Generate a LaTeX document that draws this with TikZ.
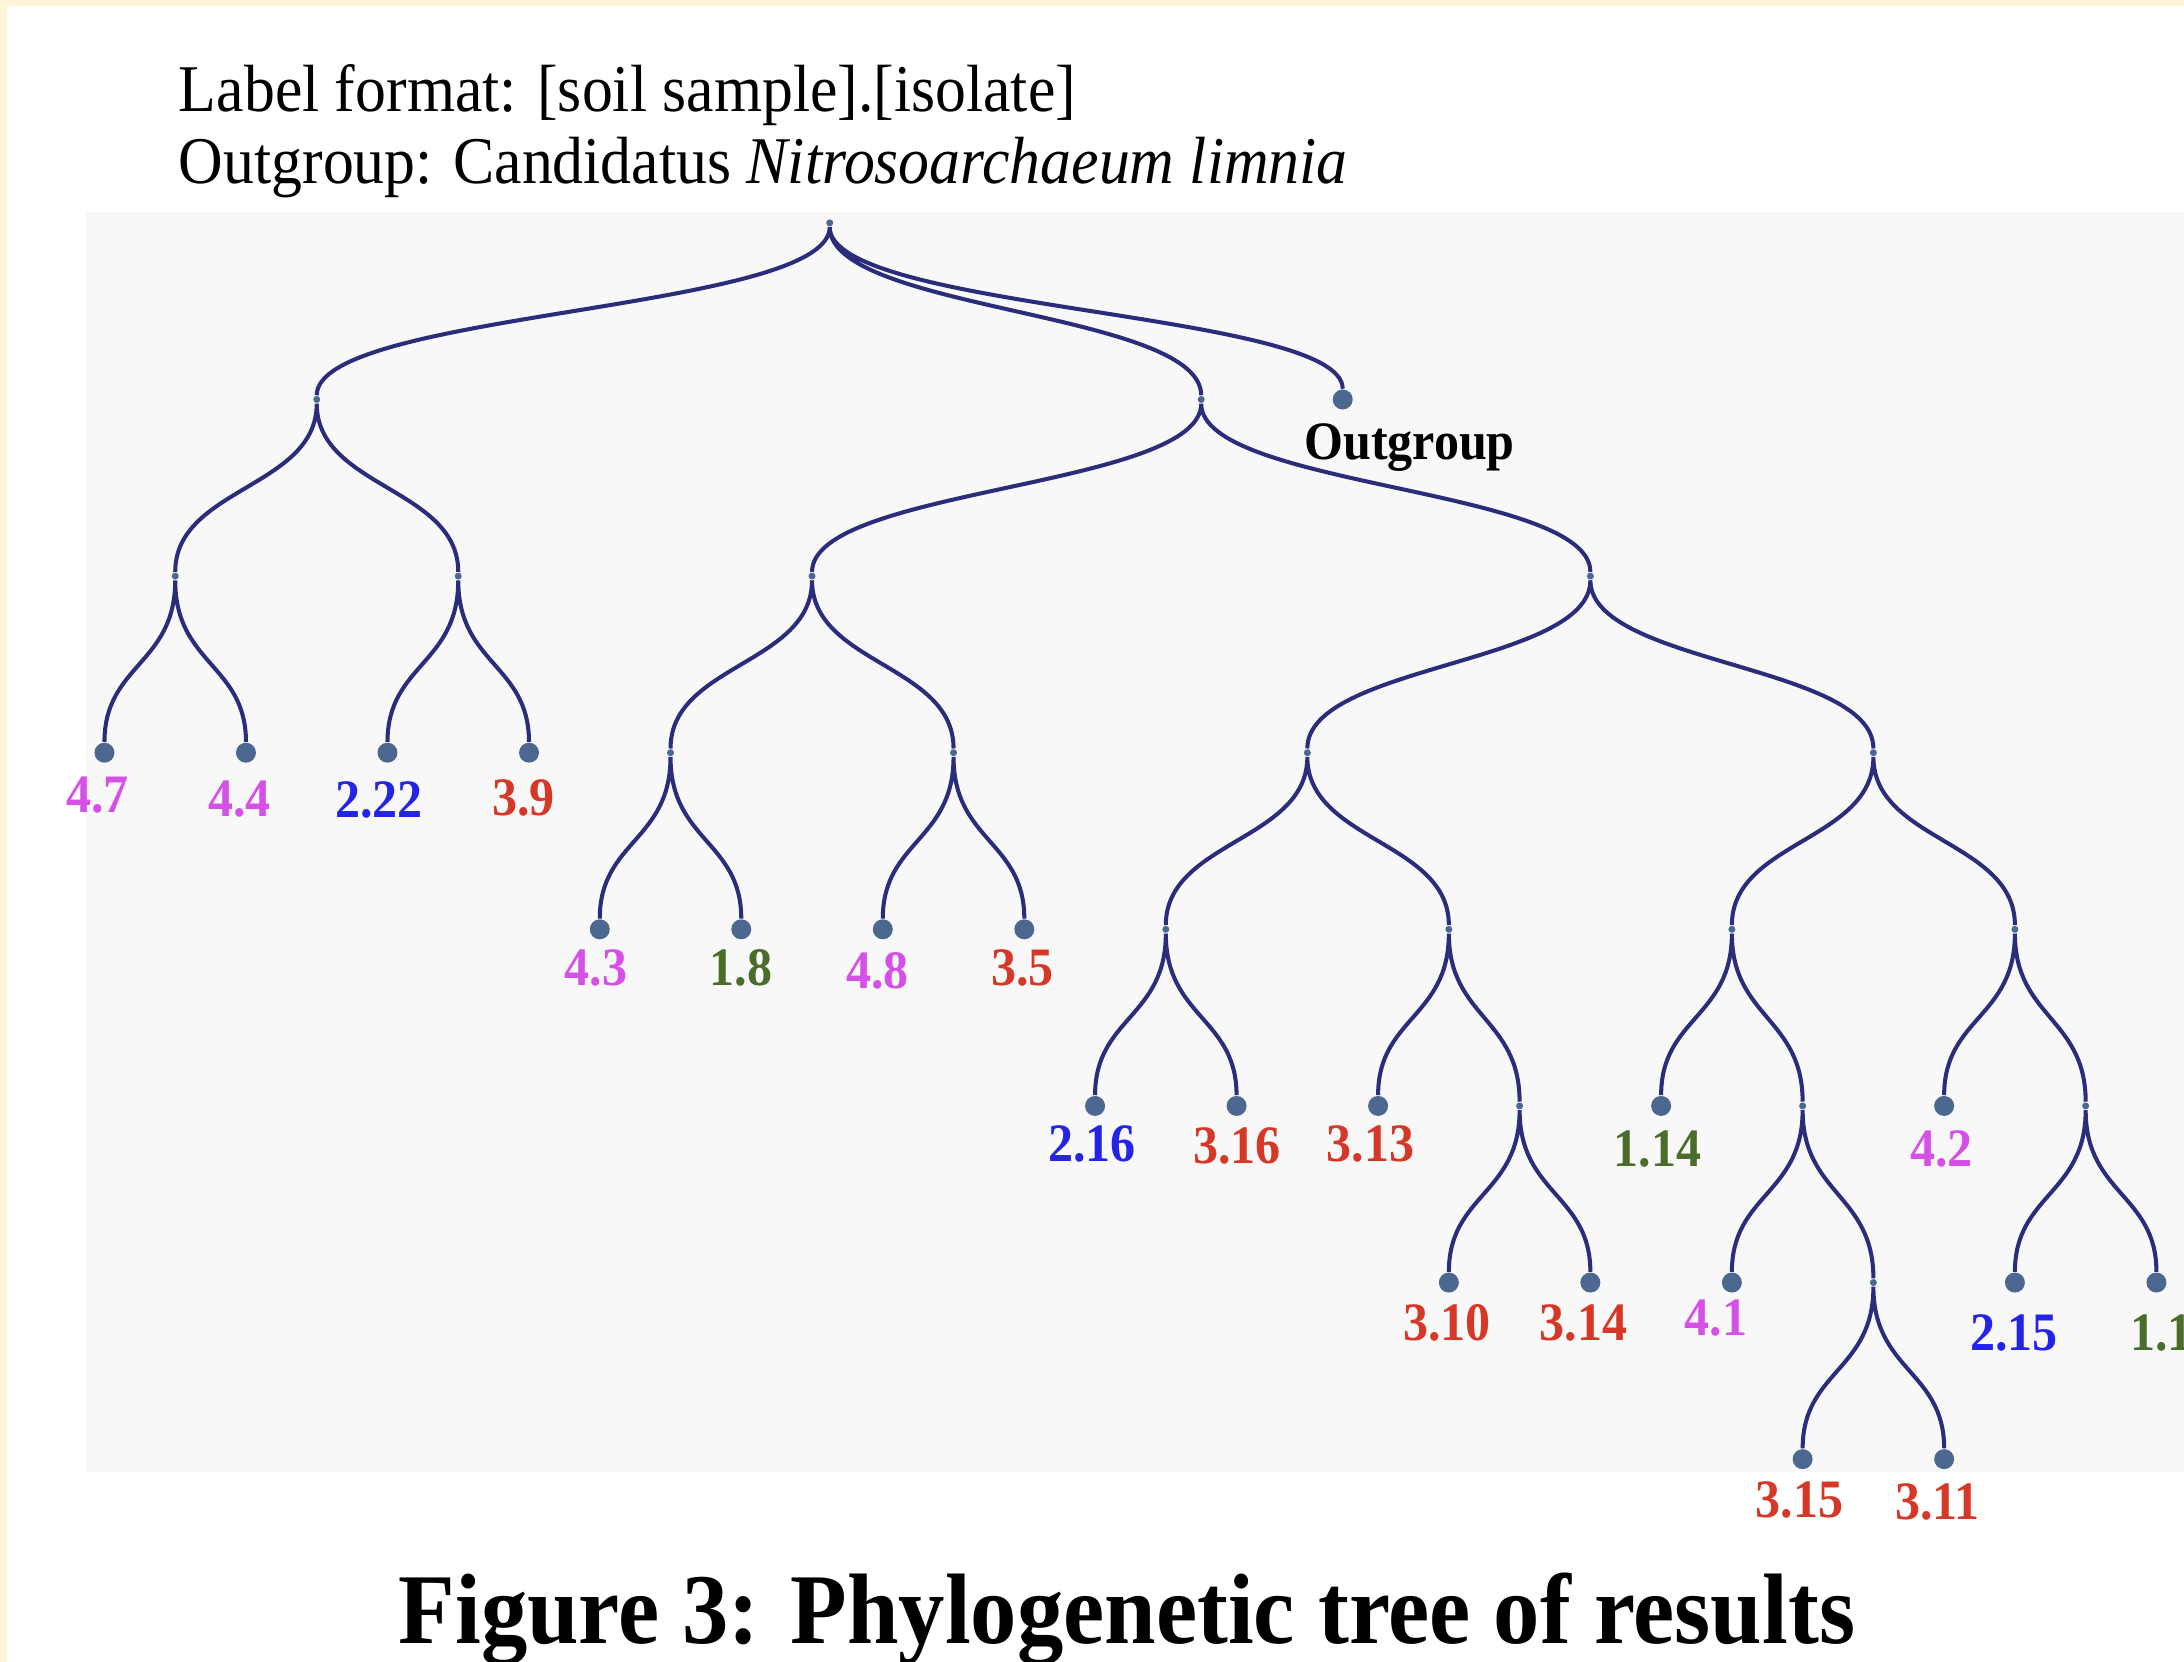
\documentclass[tikz,border=0pt]{standalone}
\usepackage{fontspec}
\setmainfont{Liberation Serif}[FakeStretch=0.925]
\definecolor{edgec}{RGB}{43,45,123}
\definecolor{dotc}{RGB}{76,104,144}
\definecolor{magc}{RGB}{214,80,232}
\definecolor{bluc}{RGB}{36,36,232}
\definecolor{redc}{RGB}{214,56,40}
\definecolor{grnc}{RGB}{74,110,42}
\definecolor{creamc}{RGB}{255,244,214}
\definecolor{panelc}{RGB}{248,248,248}
\pgfdeclarelayer{bg}
\pgfdeclarelayer{edges}
\pgfsetlayers{bg,edges,main}
\begin{document}
\begin{tikzpicture}[x=0.013929cm,y=-0.013929cm,
  inner/.style={circle,fill=dotc,draw=none,inner sep=0pt,minimum size=0.07cm},
  leaf/.style={circle,fill=dotc,draw=none,inner sep=0pt,minimum size=0.2cm},
  lab/.style={inner sep=0pt,font=\fontsize{15.4}{18}\selectfont\bfseries},
  mag/.style={text=magc}, blu/.style={text=bluc}, red/.style={text=redc}, grn/.style={text=grnc},
  branch/.style={draw=edgec,line width=1.15pt,to path={.. controls +(0,63.4) and +(0,-63.4) .. (\tikztotarget)}}]
\useasboundingbox (0,0) rectangle (1568,1193);
\begin{pgfonlayer}{bg}
\fill[creamc] (0,0) rectangle (1568,1193);
\fill[white] (5,4.3) rectangle (1568,1193);
\fill[panelc] (62,152) rectangle (1568,1057);
\end{pgfonlayer}
% header
\node[anchor=base west,inner sep=0pt,font=\fontsize{19}{23}\selectfont] (h1) at (128,80) {Label format: [soil sample].[isolate]};
\node[anchor=base west,inner sep=0pt,font=\fontsize{19}{23}\selectfont] (h2) at (128,132) {Outgroup: Candidatus \textit{Nitrosoarchaeum limnia}};
% internal nodes
\node[inner] (r) at (595.7,160) {};
\node[inner] (n1) at (227.4,286.8) {};
\node[inner] (n2) at (862.4,286.8) {};
\node[inner] (n3) at (125.8,413.6) {};
\node[inner] (n4) at (329,413.6) {};
\node[inner] (n5) at (583,413.6) {};
\node[inner] (n6) at (1141.8,413.6) {};
\node[inner] (n7) at (481.4,540.4) {};
\node[inner] (n8) at (684.6,540.4) {};
\node[inner] (n9) at (938.6,540.4) {};
\node[inner] (n10) at (1345,540.4) {};
\node[inner] (n11) at (837,667.2) {};
\node[inner] (n12) at (1040.2,667.2) {};
\node[inner] (n14) at (1243.4,667.2) {};
\node[inner] (n15) at (1446.6,667.2) {};
\node[inner] (n13) at (1091,794) {};
\node[inner] (n16) at (1294.2,794) {};
\node[inner] (n18) at (1497.4,794) {};
\node[inner] (n17) at (1345,920.8) {};
% leaves
\node[leaf] (og) at (964,286.8) {};
\node[leaf] (l47) at (75,540.4) {};
\node[leaf] (l44) at (176.6,540.4) {};
\node[leaf] (l222) at (278.2,540.4) {};
\node[leaf] (l39) at (379.8,540.4) {};
\node[leaf] (l43) at (430.6,667.2) {};
\node[leaf] (l18) at (532.2,667.2) {};
\node[leaf] (l48) at (633.8,667.2) {};
\node[leaf] (l35) at (735.4,667.2) {};
\node[leaf] (l216) at (786.2,794) {};
\node[leaf] (l316) at (887.8,794) {};
\node[leaf] (l313) at (989.4,794) {};
\node[leaf] (l114) at (1192.6,794) {};
\node[leaf] (l42) at (1395.8,794) {};
\node[leaf] (l310) at (1040.2,920.8) {};
\node[leaf] (l314) at (1141.8,920.8) {};
\node[leaf] (l41) at (1243.4,920.8) {};
\node[leaf] (l215) at (1446.6,920.8) {};
\node[leaf] (l11) at (1548.2,920.8) {};
\node[leaf] (l315) at (1294.2,1047.6) {};
\node[leaf] (l311) at (1395.8,1047.6) {};
% labels
\node[lab,anchor=base] (tog) at (1012,330) {Outgroup};
\node[lab,mag] (t47) at (70,571) {4.7};
\node[lab,mag] (t44) at (172,574) {4.4};
\node[lab,blu] (t222) at (272,574) {2.22};
\node[lab,red] (t39) at (376,573) {3.9};
\node[lab,mag] (t43) at (428,695) {4.3};
\node[lab,grn] (t18) at (532,695) {1.8};
\node[lab,mag] (t48) at (630,697) {4.8};
\node[lab,red] (t35) at (734,695) {3.5};
\node[lab,blu] (t216) at (784,821) {2.16};
\node[lab,red] (t316) at (888,823) {3.16};
\node[lab,red] (t313) at (984,821) {3.13};
\node[lab,grn] (t114) at (1190,825) {1.14};
\node[lab,mag] (t42) at (1394,825) {4.2};
\node[lab,red] (t310) at (1039,950) {3.10};
\node[lab,red] (t314) at (1137,950) {3.14};
\node[lab,mag] (t41) at (1232,946) {4.1};
\node[lab,blu] (t215) at (1446,957) {2.15};
\node[lab,grn,anchor=west] (t11) at (1529,957) {1.1};
\node[lab,red] (t315) at (1292,1077) {3.15};
\node[lab,red] (t311) at (1391,1078) {3.11};
% title
\node[anchor=base,inner sep=0pt,font=\fontsize{28.5}{32}\selectfont\bfseries] (title) at (809,1180) {Figure 3: Phylogenetic tree of results};
% edges
\begin{pgfonlayer}{edges}
\path[branch] (r) to (n1) (r) to (n2) (r) to (og)
  (n1) to (n3) (n1) to (n4)
  (n3) to (l47) (n3) to (l44) (n4) to (l222) (n4) to (l39)
  (n2) to (n5) (n2) to (n6)
  (n5) to (n7) (n5) to (n8)
  (n7) to (l43) (n7) to (l18) (n8) to (l48) (n8) to (l35)
  (n6) to (n9) (n6) to (n10)
  (n9) to (n11) (n9) to (n12)
  (n11) to (l216) (n11) to (l316)
  (n12) to (l313) (n12) to (n13)
  (n13) to (l310) (n13) to (l314)
  (n10) to (n14) (n10) to (n15)
  (n14) to (l114) (n14) to (n16)
  (n16) to (l41) (n16) to (n17)
  (n17) to (l315) (n17) to (l311)
  (n15) to (l42) (n15) to (n18)
  (n18) to (l215) (n18) to (l11);
\end{pgfonlayer}
\end{tikzpicture}
\end{document}
